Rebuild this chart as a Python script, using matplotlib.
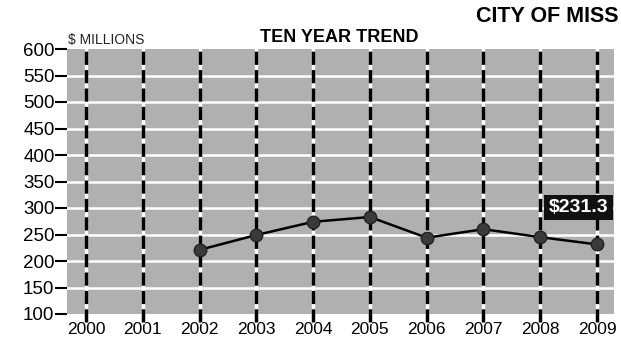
import matplotlib
matplotlib.use("Agg")
import matplotlib.pyplot as plt

years = [2000, 2001, 2002, 2003, 2004, 2005, 2006, 2007, 2008, 2009]
year_labels = ["2000", "2001", "2002", "2003", "2004", "2005", "2006", "2007", "2008", "2009"]
data_years = [2002, 2003, 2004, 2005, 2006, 2007, 2008, 2009]
values = [221, 249, 274, 283, 244, 260, 245, 231.3]
y_ticks = [100, 150, 200, 250, 300, 350, 400, 450, 500, 550, 600]

plt.rcParams['font.family'] = ['Liberation Sans', 'DejaVu Sans']

fig = plt.figure(figsize=(6.21, 3.49), dpi=100)
ax = fig.add_axes([67/621, 1-314/349, 547/621, 265/349])
ax.set_facecolor('#b0b0b0')
ax.set_xlim(2000 - 0.335, 2009 + 0.3)
ax.set_ylim(100, 600)

for y in y_ticks[1:-1]:
    ax.axhline(y, color='white', lw=1.8, zorder=1)
for x in years:
    ax.plot([x, x], [85, 600], color='white', lw=2.5, zorder=2, clip_on=False)
    ax.plot([x, x], [85, 600], color='black', lw=2.5, dashes=(3.8, 1.5), zorder=3, clip_on=False)

ax.plot(data_years, values, color='black', lw=1.8, marker='o', markersize=9,
        markerfacecolor='#3a3a3a', markeredgecolor='#222222', zorder=5)

ax.set_yticks(y_ticks)
ax.set_yticklabels([str(v) for v in y_ticks], fontsize=13.5)
ax.set_xticks(years)
ax.set_xticklabels(year_labels, fontsize=12.5)
ax.tick_params(axis='y', length=8.5, width=1.5, pad=0.5, color='black')
ax.tick_params(axis='x', length=0, pad=6)
for s in ax.spines.values():
    s.set_visible(False)

ax.annotate("$231.3", xy=(data_years[-1], values[-1]), xytext=(2009.2, 301),
            textcoords='data', ha='right', va='center', fontsize=14, fontweight='bold',
            color='white', zorder=6,
            bbox=dict(boxstyle='square,pad=0.22', fc='#111111', ec='none'))

fig.text(68/621, 1-40/349, "$ MILLIONS", fontsize=10, ha='left', va='center', color='#222222')
fig.text(339/621, 1-38/349, "TEN YEAR TREND", fontsize=13, fontweight='bold', ha='center', va='center')
fig.text(476/621, 1-16/349, "CITY OF MISS", fontsize=15.5, fontweight='bold', ha='left', va='center')

fig.savefig("out.png", dpi=100)
